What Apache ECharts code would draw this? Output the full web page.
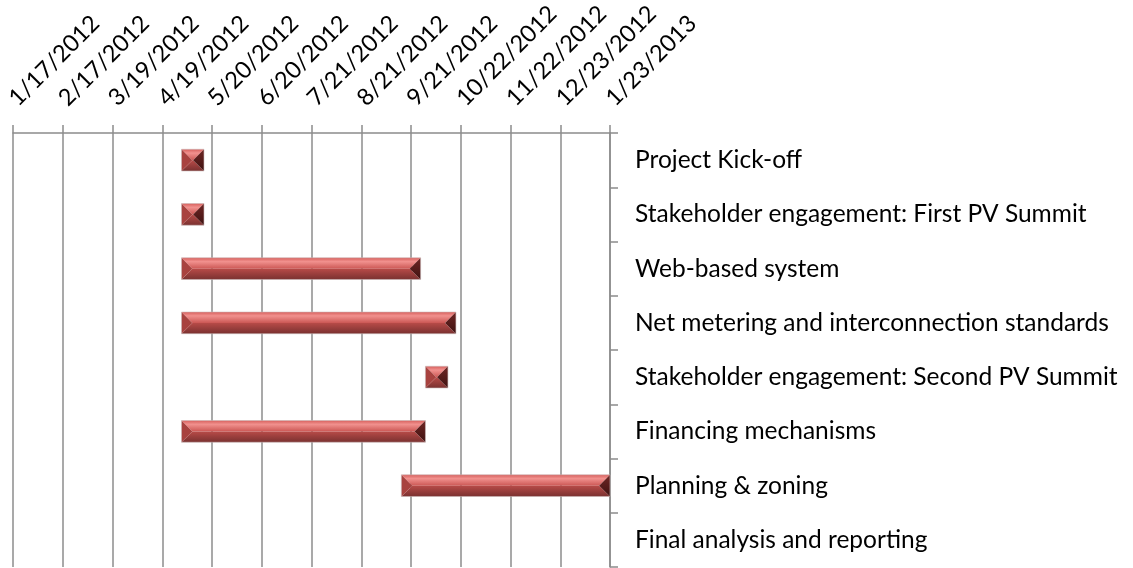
<!DOCTYPE html>
<html lang="en">
<head>
	<meta charset="utf-8">
	<title>Project schedule</title>
	<style>
		html, body { margin: 0; padding: 0; background: #fff; }
		#main { width: 1133px; height: 568px; }
	</style>
</head>
<body>
	<div id="main"></div>
	<script src="https://cdn.jsdelivr.net/npm/echarts@6/dist/echarts.min.js"></script>
	<script>
		// tasks, top to bottom
		const categories = [
			'Project Kick-off',
			'Stakeholder engagement: First PV Summit',
			'Web-based system',
			'Net metering and interconnection standards',
			'Stakeholder engagement: Second PV Summit',
			'Financing mechanisms',
			'Planning & zoning',
			'Final analysis and reporting'
		];
		// start / end of each task (null = no bar drawn)
		const startDates = ['2012-05-01', '2012-05-01', '2012-05-01', '2012-05-01', '2012-09-30', '2012-05-01', '2012-09-15', null];
		const endDates   = ['2012-05-15', '2012-05-15', '2012-09-27', '2012-10-19', '2012-10-14', '2012-09-30', '2013-01-23', null];

		// top axis: 31 day steps from 1/17/2012
		const axisStart = '2012-01-17';
		const stepDays = 31;
		const tickLabels = ['1/17/2012', '2/17/2012', '3/19/2012', '4/19/2012', '5/20/2012', '6/20/2012',
			'7/21/2012', '8/21/2012', '9/21/2012', '10/22/2012', '11/22/2012', '12/23/2012', '1/23/2013'];

		const font = 'Lato, Carlito, Calibri, sans-serif';
		const gridColor = '#8c8c8c';

		function dayOffset(d) {
			return Math.round((Date.parse(d) - Date.parse(axisStart)) / 86400000);
		}

		let taskData = [];
		for (let i = 0; i < categories.length; i++) {
			if (startDates[i] && endDates[i]) {
				taskData.push([i, dayOffset(startDates[i]), dayOffset(endDates[i])]);
			}
		}

		// bevelled bar, like the office "bevel" fill
		function renderBar(params, api) {
			let s = api.coord([api.value(1), api.value(0)]);
			let e = api.coord([api.value(2), api.value(0)]);
			let h = api.size([0, 1])[1] * 0.4;
			let x0 = s[0], x1 = e[0], yc = s[1];
			let y0 = yc - h / 2, y1 = yc + h / 2;
			let b = Math.min(h / 2, (x1 - x0) / 2);
			return {
				type: 'group',
				children: [
					{ type: 'polygon', shape: { points: [[x0, y0], [x1, y0], [x1 - b, yc], [x0 + b, yc]] },
					  style: { fill: new echarts.graphic.LinearGradient(0, 0, 0, 1, [
						{ offset: 0, color: '#d7605d' }, { offset: 0.35, color: '#f1918e' }, { offset: 1, color: '#cc5855' }]) } },
					{ type: 'polygon', shape: { points: [[x0, y1], [x1, y1], [x1 - b, yc], [x0 + b, yc]] },
					  style: { fill: new echarts.graphic.LinearGradient(0, 0, 0, 1, [
						{ offset: 0, color: '#b84b48' }, { offset: 1, color: '#7a3130' }]) } },
					{ type: 'polygon', shape: { points: [[x0, y0], [x0 + b, yc], [x0, y1]] },
					  style: { fill: '#a8423f' } },
					{ type: 'polygon', shape: { points: [[x1, y0], [x1 - b, yc], [x1, y1]] },
					  style: { fill: new echarts.graphic.LinearGradient(0, 0, 0, 1, [
						{ offset: 0, color: '#6e2624' }, { offset: 1, color: '#3f1211' }]) } },
					{ type: 'rect', shape: { x: x0, y: y0, width: x1 - x0, height: h },
					  style: { fill: 'none', stroke: '#c9b9b9', lineWidth: 0.6 } }
				]
			};
		}

		let myChart = echarts.init(document.getElementById('main'), null, { renderer: 'canvas' });
		let option = {
			backgroundColor: '#ffffff',
			animation: false,
			grid: { left: 13, right: 523, top: 133, bottom: 1, outerBoundsMode: 'none' },
			xAxis: {
				type: 'value',
				position: 'top',
				min: 0,
				max: stepDays * (tickLabels.length - 1),
				interval: stepDays,
				axisLine: { show: true, onZero: false, lineStyle: { color: gridColor, width: 1.5 } },
				axisTick: { show: true, length: 8, lineStyle: { color: gridColor, width: 1.5 } },
				splitLine: { show: true, lineStyle: { color: gridColor, width: 1.5 } },
				axisLabel: {
					rotate: -45,
					margin: 31,
					fontSize: 23.5,
					fontFamily: font,
					color: '#000',
					formatter: function (v) { return tickLabels[Math.round(v / stepDays)]; }
				}
			},
			yAxis: {
				type: 'category',
				position: 'right',
				inverse: true,
				data: categories,
				axisLine: { show: true, onZero: false, lineStyle: { color: gridColor, width: 1.5 } },
				axisTick: { show: true, length: 8, lineStyle: { color: gridColor, width: 1.5 } },
				splitLine: { show: false },
				axisLabel: { margin: 25, fontSize: 24.5, fontFamily: font, color: '#000' }
			},
			series: [{
				type: 'custom',
				renderItem: renderBar,
				encode: { x: [1, 2], y: 0 },
				data: taskData
			}]
		};
		myChart.setOption(option);
	</script>
</body>
</html>
